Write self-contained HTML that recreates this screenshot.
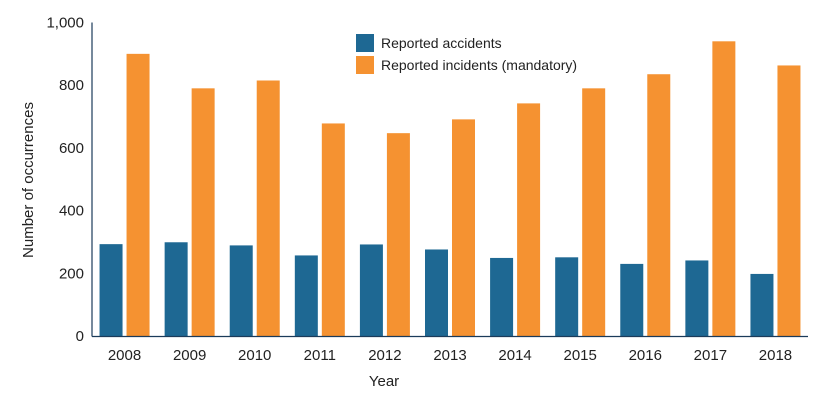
<!DOCTYPE html>
<html><head><meta charset="utf-8"><style>
body{margin:0;background:#fff;}
svg{display:block;font-family:"Liberation Sans",sans-serif;}
</style></head><body>
<svg id="chart" width="824" height="401">
<g id="bars"></g>
<g id="axes"></g>
<text x="33" y="180" transform="rotate(-90 33 180)" text-anchor="middle" font-size="15" fill="#222">Number of occurrences</text>
<text x="384" y="386" text-anchor="middle" font-size="15" fill="#222">Year</text>
<g>
<rect x="356" y="34" width="18" height="18" fill="#1e6893"/>
<text x="381" y="48" font-size="14" fill="#222">Reported accidents</text>
<rect x="356" y="56" width="18" height="18" fill="#f59231"/>
<text x="381" y="70" font-size="14" fill="#222">Reported incidents (mandatory)</text>
</g>
</svg>
<script>
const categories=["2008","2009","2010","2011","2012","2013","2014","2015","2016","2017","2018"];
const accidents=[293,299,289,257,292,276,249,251,230,241,198];
const incidents=[900,790,815,678,647,691,742,790,835,940,863];
const yTicks=[0,200,400,600,800,1000];
const yTickLabels=["0","200","400","600","800","1,000"];
const NS="http://www.w3.org/2000/svg";
const x0=92,x1=808,y0=336,y1=22.5,yMax=1000;
const band=(x1-x0)/categories.length;
function y(v){return y0-(v/yMax)*(y0-y1);}
function bx(i){return x0+i*band+band/2;}
const bars=document.getElementById('bars'),axes=document.getElementById('axes');
function mk(tag,attrs,parent){const e=document.createElementNS(NS,tag);for(const k in attrs)e.setAttribute(k,attrs[k]);parent.appendChild(e);return e;}
categories.forEach((c,i)=>{
  const cx=bx(i);
  const a=mk('rect',{x:cx-25,y:y(accidents[i]),width:23,height:y0-y(accidents[i]),fill:'#1e6893'},bars);
  
  
  const b=mk('rect',{x:cx+2,y:y(incidents[i]),width:23,height:y0-y(incidents[i]),fill:'#f59231'},bars);
  
  
  const t=mk('text',{x:cx,y:360,'text-anchor':'middle','font-size':15,fill:'#222'},axes);
  t.textContent=c;
  
  
});
yTicks.forEach((v,i)=>{
  const t=mk('text',{x:84,y:y(v)+5,'text-anchor':'end','font-size':15,fill:'#222'},axes);
  t.textContent=yTickLabels[i];
  
  
});
const ya=mk('line',{x1:x0,y1:y1,x2:x0,y2:y0+0.5,stroke:'#1b3b5a','stroke-width':1.2},axes);


const xa=mk('line',{x1:x0,y1:y0+0.5,x2:x1,y2:y0+0.5,stroke:'#1b3b5a','stroke-width':1.2},axes);


</script>
</body></html>
